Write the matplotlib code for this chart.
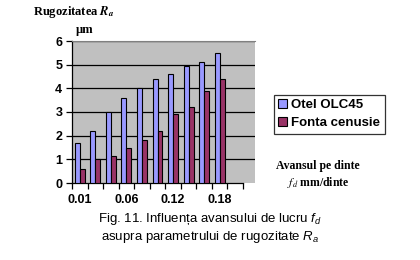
import numpy as np
import matplotlib
matplotlib.use('Agg')
import matplotlib.pyplot as plt

# feed per tooth (mm/tooth) and roughness Ra (um)
categories = ['0.01', '0.02', '0.04', '0.06', '0.08', '0.10', '0.12', '0.14', '0.16', '0.18', '']
otel = [1.7, 2.2, 3.0, 3.6, 4.0, 4.4, 4.6, 4.95, 5.1, 5.5]
fonta = [0.58, 1.0, 1.13, 1.5, 1.8, 2.2, 2.9, 3.2, 3.9, 4.4]
shown_labels = ['0.01', '0.06', '0.12', '0.18']
yticks = [0, 1, 2, 3, 4, 5, 6]

plt.rcParams['mathtext.fontset'] = 'custom'
plt.rcParams['mathtext.it'] = 'Liberation Sans:italic'
plt.rcParams['mathtext.rm'] = 'Liberation Sans'

W, H = 420, 260
fig = plt.figure(figsize=(W / 100, H / 100), dpi=100)
fig.patch.set_facecolor('white')

# axes placed in pixel coordinates
x0, x1, ytop, ybot = 72, 255, 41, 183
ax = fig.add_axes([x0 / W, 1 - ybot / H, (x1 - x0) / W, (ybot - ytop) / H])
ax.set_facecolor('#C0C0C0')

n = len(categories)
x = np.arange(n)
bw = 0.32
ax.bar(x[:len(otel)] - bw / 2, otel, bw, color='#9999FF', edgecolor='black', linewidth=0.8, zorder=3, label='Otel OLC45')
ax.bar(x[:len(fonta)] + bw / 2, fonta, bw, color='#993366', edgecolor='black', linewidth=0.8, zorder=3, label='Fonta cenusie')

ax.set_ylim(0, 6)
ax.set_xlim(-0.5, n - 0.5 + 0.77)
ax.set_yticks(yticks)
ax.set_yticklabels([str(v) for v in yticks], fontfamily='Liberation Sans', fontweight='bold', fontsize=9)
for v in yticks[1:]:
    ax.axhline(v, color='black', linewidth=0.9, zorder=1)

# category ticks at boundaries, labels every third category
ax.set_xticks(np.arange(n + 1) - 0.5, minor=True)
ax.set_xticks([categories.index(s) for s in shown_labels])
ax.set_xticklabels(shown_labels, fontfamily='Liberation Sans', fontweight='bold', fontsize=9)
ax.tick_params(axis='x', which='major', length=0, pad=8)
ax.tick_params(axis='x', which='minor', length=4, width=0.9, direction='out')
ax.tick_params(axis='y', length=4, width=0.9, direction='out', pad=3)

ax.spines['right'].set_visible(False)
ax.spines['top'].set_color('#808080')
ax.spines['left'].set_linewidth(0.9)
ax.spines['bottom'].set_linewidth(0.9)
ax.spines['bottom'].set_bounds(-0.5, n - 0.5)

fig.text(74 / W, 1 - 12 / H, r'Rugozitatea $\mathbfit{R_a}$', ha='center', va='center',
         fontfamily='Liberation Serif', fontweight='bold', fontsize=9, math_fontfamily='stix')
fig.text(85 / W, 1 - 30 / H, 'µm', ha='center', va='center',
         fontfamily='Liberation Serif', fontweight='bold', fontsize=9)

leg = fig.legend(loc='upper left', bbox_to_anchor=(267 / W, 1 - 88 / H), frameon=True,
                 prop={'family': 'Liberation Sans', 'weight': 'bold', 'size': 9.5},
                 handlelength=0.7, handleheight=0.7, handletextpad=0.3,
                 borderpad=0.35, labelspacing=0.4, fancybox=False)
leg.get_frame().set_edgecolor('black')
leg.get_frame().set_linewidth(0.9)

fig.text(318 / W, 1 - 166 / H, 'Avansul pe dinte', ha='center', va='center',
         fontfamily='Liberation Serif', fontweight='bold', fontsize=8.5)
fig.text(318 / W, 1 - 182 / H, r'$\mathit{f_d}$ mm/dinte', ha='center', va='center',
         fontfamily='Liberation Serif', fontweight='bold', fontsize=8.5, math_fontfamily='stix')

fig.text(210 / W, 1 - 219 / H, r'Fig. 11. Influența avansului de lucru $\mathit{f_d}$', ha='center', va='center',
         fontfamily='Liberation Sans', fontsize=9.5, math_fontfamily='custom')
fig.text(210 / W, 1 - 237 / H, r'asupra parametrului de rugozitate $\mathit{R_a}$', ha='center', va='center',
         fontfamily='Liberation Sans', fontsize=9.5, math_fontfamily='custom')

fig.savefig('out.png', dpi=100)
